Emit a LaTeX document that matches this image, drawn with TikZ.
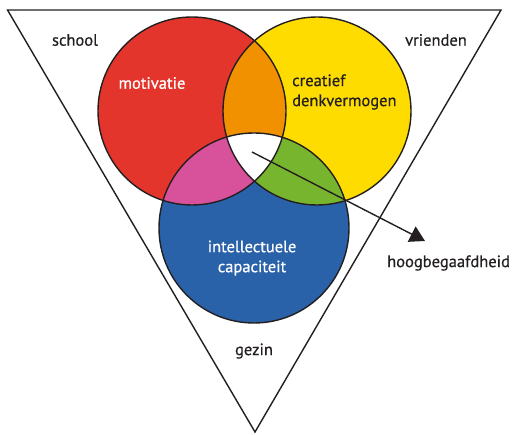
\documentclass[tikz,border=0pt]{standalone}
\usepackage{fontspec}
\setmainfont{PT Sans}
\newfontfamily\labfont[FakeBold=0.6]{PT Sans}
\usetikzlibrary{arrows.meta}
\definecolor{cred}{HTML}{E4352D}
\definecolor{cyellow}{HTML}{FEDC00}
\definecolor{cblue}{HTML}{2A62AA}
\definecolor{corange}{HTML}{F29100}
\definecolor{cpink}{HTML}{D8519B}
\definecolor{cgreen}{HTML}{77B52F}
\definecolor{ctext}{HTML}{231F20}
\begin{document}
\begin{tikzpicture}[x=1pt,y=-1pt,
  lbl/.style={font=\labfont\fontsize{16.5}{20}\selectfont, inner sep=0pt, text=ctext},
  wlbl/.style={lbl, text=white},
  outline/.style={draw=ctext, line width=1.4pt}]
\useasboundingbox (0,0) rectangle (520,435);
\fill[white] (0,0) rectangle (520,435);
% triangle
\coordinate (tl) at (7.5,10);
\coordinate (tr) at (501,10);
\coordinate (tb) at (255,432);
\draw[outline, line join=miter] (tl) -- (tr) -- (tb) -- cycle;
% circles
\def\cR{(192,111) circle (94pt)}
\def\cY{(317,111) circle (94pt)}
\def\cB{(254,228) circle (95pt)}
\fill[cred] \cR;
\fill[cyellow] \cY;
\fill[cblue] \cB;
\begin{scope}\clip \cR; \fill[corange] \cY;\end{scope}
\begin{scope}\clip \cR; \fill[cpink] \cB;\end{scope}
\begin{scope}\clip \cY; \fill[cgreen] \cB;\end{scope}
\begin{scope}\clip \cR; \clip \cY; \fill[white] \cB;\end{scope}
\draw[outline] \cR;
\draw[outline] \cY;
\draw[outline] \cB;
% labels
\node[lbl] (school) at (75,40) {school};
\node[lbl] (vrienden) at (436,40) {vrienden};
\node[lbl] (gezin) at (254,351) {gezin};
\node[wlbl] (motivatie) at (152,83) {motivatie};
\node[lbl, align=left, anchor=west] (creatief) at (292,92) {creatief\\denkvermogen};
\node[wlbl, align=center] (intel) at (252,258) {intellectuele\\capaciteit};
\node[lbl, anchor=west] (hoog) at (387,263) {hoogbegaafdheid};
% arrow
\coordinate (core) at (252,152);
\coordinate (tip) at (425,241);
\draw[draw=ctext, line width=1.4pt, -{Triangle[length=15pt,width=17pt]}] (core) -- (tip);
\end{tikzpicture}
\end{document}
